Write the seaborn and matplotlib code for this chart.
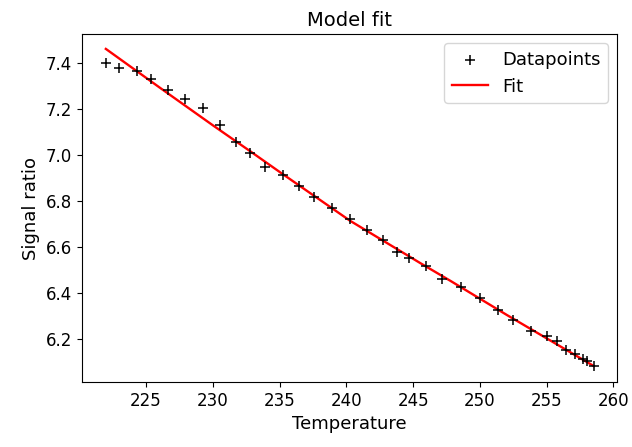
import matplotlib
matplotlib.use("Agg")
import matplotlib.pyplot as plt
import seaborn as sns
import numpy as np

temperature = [222.00, 223.00, 224.35, 225.35, 226.67, 227.92, 229.25, 230.58,
               231.75, 232.82, 233.90, 235.29, 236.49, 237.61, 238.94, 240.27,
               241.54, 242.77, 243.77, 244.69, 245.93, 247.13, 248.59, 250.04,
               251.36, 252.51, 253.82, 254.99, 255.76, 256.45, 257.11, 257.74,
               258.04, 258.53]
signal_ratio = [7.401, 7.379, 7.364, 7.331, 7.282, 7.242, 7.206, 7.131,
                7.059, 7.007, 6.950, 6.915, 6.866, 6.816, 6.768, 6.724,
                6.672, 6.629, 6.580, 6.553, 6.516, 6.461, 6.428, 6.377,
                6.328, 6.282, 6.234, 6.211, 6.190, 6.151, 6.133, 6.114,
                6.102, 6.081]

fit_x = [222.00, 226.0, 230.0, 232.80, 235.05, 240.29, 245.54, 247.79, 252.0, 258.53]
fit_y = [7.462, 7.295, 7.130, 7.017, 6.925, 6.714, 6.530, 6.453, 6.305, 6.082]

fig = plt.figure(figsize=(6.32, 4.47), dpi=100)
ax = fig.add_axes([0.129, 0.145, 0.847, 0.778])

sns.scatterplot(x=temperature, y=signal_ratio, marker="+", color="black",
                s=60, linewidth=1.1, label="Datapoints", ax=ax, zorder=3)
sns.lineplot(x=fit_x, y=fit_y, color="red", linewidth=1.7, label="Fit", ax=ax,
             sort=True, estimator=None)

ax.set_xticks([225, 230, 235, 240, 245, 250, 255, 260])
ax.set_yticks([6.2, 6.4, 6.6, 6.8, 7.0, 7.2, 7.4])
ax.set_xlim(220.18, 260.25)
ax.set_ylim(6.012, 7.525)
ax.set_xlabel("Temperature", fontsize=13)
ax.set_ylabel("Signal ratio", fontsize=13)
ax.set_title("Model fit", fontsize=14)
ax.tick_params(labelsize=12)
ax.legend(loc="upper right", fontsize=13)

fig.savefig("out.png", dpi=100)
